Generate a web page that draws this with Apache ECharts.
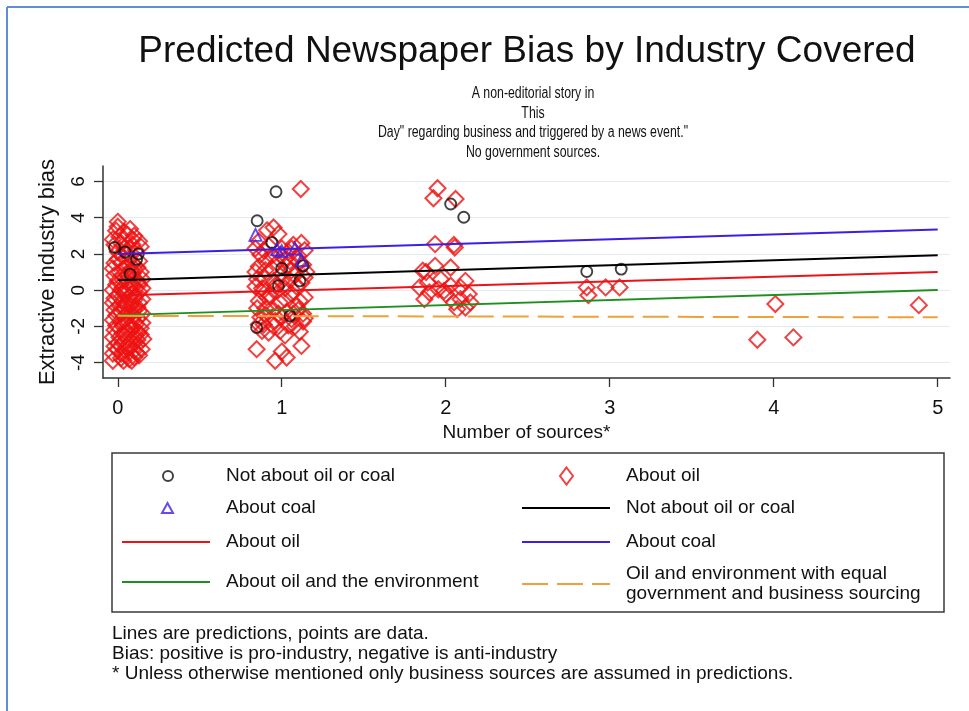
<!DOCTYPE html>
<html>
<head>
<meta charset="utf-8">
<script src="https://cdn.jsdelivr.net/npm/echarts@6/dist/echarts.min.js"></script>
<style>
  html, body { margin: 0; padding: 0; background: #fff; }
  #chart { width: 969px; height: 711px; }
</style>
</head>
<body>
<div id="chart"></div>
<script>
  // tick labels
  const xTicks = [0, 1, 2, 3, 4, 5];
  const yTicks = [-4, -2, 0, 2, 4, 6];

  // data points [sources, bias]
  const otherPts = [
    [0.045, 2.1], [0.125, 2.0], [0.075, 0.88], [0.115, 1.7], [-0.02, 2.35],
    [0.965, 5.43], [0.85, 3.83], [0.94, 2.63], [0.847, -2.06], [1.13, 1.34],
    [1.11, 0.51], [0.98, 0.24], [1.05, -1.42], [1.0, 1.2],
    [2.03, 4.75], [2.11, 4.02],
    [2.86, 1.03], [3.07, 1.16]
  ];
  const coalPts = [
    [0.84, 3.05], [0.97, 2.25], [1.0, 2.15], [1.08, 2.3], [1.12, 1.65]
  ];
  const oilPts = [
    // zero sources
    [0.0, 3.77], [0.075, 3.37], [-0.01, 3.28], [0.01, 2.95], [0.06, 3.05], [0.02, 2.6],
    [0.04, 2.3], [0.09, 2.5], [0.0, 2.1], [0.11, 2.2], [0.03, 1.85], [0.07, 1.7],
    [0.13, 1.6], [-0.02, 1.5], [0.05, 1.3], [0.1, 1.2], [0.01, 1.0], [0.14, 1.0],
    [0.06, 0.8], [0.03, 0.55], [0.12, 0.5], [-0.01, 0.3], [0.08, 0.2], [0.15, 0.1],
    [0.02, 0.0], [0.05, -0.2], [0.11, -0.3], [-0.02, -0.45], [0.07, -0.6], [0.13, -0.7],
    [0.01, -0.85], [0.04, -1.0], [0.1, -1.1], [0.15, -1.3], [-0.01, -1.4], [0.06, -1.5],
    [0.12, -1.6], [0.02, -1.8], [0.08, -1.95], [0.14, -2.1], [-0.02, -2.2], [0.05, -2.35],
    [0.125, -2.34], [0.01, -2.6], [0.09, -2.7], [0.156, -2.7], [0.03, -2.9], [0.12, -3.0],
    [-0.02, -3.1], [0.07, -3.2], [0.146, -3.26], [0.115, -3.44], [0.02, -3.5], [0.05, -3.6],
    [0.1, -3.7], [-0.03, -3.9], [0.035, -3.9], [0.085, -3.9], [0.0, -3.3], [0.04, -0.1],
    [0.09, 0.9], [0.0, 1.7], [0.06, 2.0], [0.13, 0.3], [0.03, -2.0], [0.11, -2.5],
    [-0.03, 2.8], [0.1, 3.0], [0.13, 2.7], [-0.02, 2.5], [0.07, 2.3], [0.14, 2.4],
    [0.02, 1.5], [0.09, 1.5], [-0.03, 1.2], [0.08, 1.1], [0.12, 1.25], [0.04, 0.7],
    [0.1, 0.65], [-0.02, 0.8], [0.15, 0.6], [0.06, 0.4], [0.0, 0.5], [0.1, 0.2],
    [0.03, 0.15], [-0.03, 0.0], [0.13, -0.1], [0.08, -0.25], [0.0, -0.3], [0.15, -0.5],
    [0.03, -0.55], [0.1, -0.55], [-0.03, -0.7], [0.05, -0.8], [0.12, -0.95], [0.08, -0.85],
    [-0.02, -1.1], [0.02, -1.25], [0.07, -1.25], [0.13, -1.15], [0.04, -1.7], [0.1, -1.45],
    [-0.03, -1.65], [0.15, -1.8], [0.06, -1.85], [0.11, -1.9], [-0.01, -1.95], [0.08, -2.2],
    [0.14, -2.45], [0.03, -2.4], [-0.03, -2.6], [0.06, -2.75], [0.12, -2.75], [0.0, -2.95],
    [0.08, -3.1], [0.04, -3.3], [0.1, -3.35], [-0.03, -3.5], [0.13, -3.6], [0.07, -3.8],
    [0.02, -3.75], [0.0, 3.5], [0.04, 3.2], [0.09, 2.8],
    // one source
    [1.116, 5.58], [0.95, 3.46], [0.91, 3.3], [0.98, 3.1], [0.86, 2.7], [1.07, 2.5],
    [1.12, 2.6], [0.89, 2.2], [1.0, 2.3], [1.04, 2.1], [0.94, 1.9], [1.1, 1.9],
    [0.86, 1.3], [0.97, 1.5], [1.03, 1.3], [1.13, 1.4], [0.9, 1.1], [1.0, 0.9],
    [1.08, 0.8], [0.85, 0.6], [0.95, 0.5], [1.12, 0.4], [0.88, 0.1], [1.02, 0.1],
    [1.06, -0.2], [0.93, -0.3], [1.14, -0.4], [0.86, -0.6], [0.99, -0.7], [1.09, -0.9],
    [0.9, -1.0], [1.03, -1.2], [1.13, -1.3], [0.87, -1.5], [0.96, -1.7], [1.06, -1.6],
    [1.13, -1.73], [0.92, -2.34], [0.99, -2.25], [0.89, -1.9], [1.08, -2.0], [0.95, 0.0],
    [1.05, 1.6], [0.88, -0.1], [1.15, 1.0], [0.98, -1.3], [1.1, -1.1],
    [0.847, -3.26], [0.96, -3.9], [1.0, -3.39], [1.03, -3.72], [1.12, -3.08],
    [0.84, 2.3], [0.92, 2.45], [1.06, 2.3], [0.87, 1.95], [0.99, 1.95], [1.14, 2.2],
    [0.9, 1.6], [1.02, 1.7], [1.1, 1.55], [0.84, 1.0], [0.94, 1.2], [1.06, 1.1],
    [0.89, 0.7], [1.0, 0.5], [1.05, 0.55], [1.14, 0.7], [0.84, 0.2], [0.96, 0.25],
    [1.09, 0.2], [0.91, -0.4], [1.02, -0.5], [1.11, -0.6], [0.85, -1.0], [0.95, -1.1],
    [1.07, -1.3], [0.9, -1.35], [1.0, -1.5], [1.14, -1.55], [0.86, -1.9], [0.95, -2.0],
    [1.04, -1.95], [1.11, -2.3], [0.88, -2.25], [1.02, -2.5],
    // two sources
    [1.95, 5.62], [1.925, 5.07], [2.06, 5.03], [1.935, 2.54], [2.05, 2.49], [2.055, 2.35],
    [1.86, 1.07], [1.935, 1.34], [2.03, 1.25], [1.84, 0.15], [1.89, 0.42], [1.87, -0.5],
    [1.955, 0.05], [1.99, -0.04], [2.03, 0.24], [2.09, 0.15], [2.12, 0.51], [2.14, -0.22],
    [2.05, -0.68], [2.09, -0.5], [2.07, -1.05], [1.9, -0.13], [2.0, -0.22], [2.12, -0.96],
    [2.15, -0.68], [1.97, 0.6], [1.88, 1.0],
    // three to five sources
    [2.86, 0.15], [2.87, -0.28], [2.975, 0.15], [3.06, 0.15],
    [4.01, -0.77], [3.9, -2.74], [4.12, -2.61], [4.885, -0.83]
  ];

  // predicted lines, value at 0 and 5 sources
  const lineX = [0, 5];
  const otherLine = [0.55, 1.93];
  const oilLine = [-0.3, 1.0];
  const coalLine = [2.0, 3.35];
  const envLine = [-1.38, 0.0];
  const equalLine = [-1.42, -1.5];

  const legendNames = {
    ptsOther: 'Not about oil or coal',
    ptsOil: 'About oil',
    ptsCoal: 'About coal',
    lnOther: 'Not about oil or coal',
    lnOil: 'About oil',
    lnCoal: 'About coal',
    lnEnv: 'About oil and the environment',
    lnEqual: 'Oil and environment with equal\ngovernment and business sourcing'
  };

  const subtitleLines = [
    'A non-editorial story in',
    'This',
    'Day" regarding business and triggered by a news event."',
    'No government sources.'
  ];

  const chart = echarts.init(document.getElementById('chart'));
  const font = 'Liberation Sans, Arial, sans-serif';

  function pair(vals) {
    return lineX.map((x, i) => [x, vals[i]]);
  }
  // one legend block per entry; textX is where the label starts
  function legendAt(name, left, cy, h, w, ih, textX, isLine) {
    const leg = {
      data: [name],
      left: left,
      top: cy - h / 2,
      padding: 0,
      itemWidth: w,
      itemHeight: ih,
      selectedMode: false,
      formatter: n => legendNames[n],
      textStyle: {
        fontFamily: font, fontSize: 19, lineHeight: 20, color: '#111',
        padding: [0, 0, 0, textX - (left + w + 5)]
      }
    };
    if (isLine) leg.itemStyle = { opacity: 0 };
    return leg;
  }

  const option = {
    animation: false,
    backgroundColor: '#fff',
    title: [
      {
        text: 'Predicted Newspaper Bias by Industry Covered',
        left: 527, top: 32, padding: 0, textAlign: 'center',
        textStyle: { fontFamily: font, fontSize: 37, fontWeight: 'normal', color: '#111', lineHeight: 40 }
      },
      {
        text: 'Lines are predictions, points are data.\nBias: positive is pro-industry, negative is anti-industry\n* Unless otherwise mentioned only business sources are assumed in predictions.',
        left: 112, top: 624, padding: 0,
        textStyle: { fontFamily: font, fontSize: 19, fontWeight: 'normal', color: '#111', lineHeight: 20 }
      }
    ],
    legend: [
      legendAt('ptsOther', 162, 476, 20, 10, 10, 225, false),
      legendAt('ptsCoal', 161, 508, 20, 11, 10, 225, false),
      legendAt('lnOil', 121, 542, 20, 88, 12, 225, true),
      legendAt('lnEnv', 121, 582, 20, 88, 12, 225, true),
      legendAt('ptsOil', 559, 476, 20, 13, 17, 625, false),
      legendAt('lnOther', 521, 508, 20, 88, 12, 625, true),
      legendAt('lnCoal', 521, 542, 20, 88, 12, 625, true),
      legendAt('lnEqual', 521, 584, 40, 88, 12, 625, true)
    ],
    graphic: [
      { type: 'line', shape: { x1: 7, y1: 7, x2: 969, y2: 7 }, style: { stroke: '#5f8fd6', lineWidth: 2 } },
      { type: 'line', shape: { x1: 7, y1: 7, x2: 7, y2: 711 }, style: { stroke: '#5f8fd6', lineWidth: 2 } },
      { type: 'rect', shape: { x: 112, y: 453, width: 832, height: 159 }, style: { fill: 'none', stroke: '#3a3a3a', lineWidth: 1.5 } }
    ].concat(subtitleLines.map((t, i) => ({
      type: 'text',
      x: 533, y: 94 + i * 19.5,
      scaleX: 0.77,
      style: {
        text: t, fill: '#111', align: 'center', verticalAlign: 'middle',
        font: '16px Liberation Sans, Arial, sans-serif'
      }
    }))),
    grid: { left: 103, right: 19, top: 166, bottom: 333 },
    xAxis: {
      type: 'value',
      min: -0.09, max: 5.075,
      name: 'Number of sources*',
      nameLocation: 'middle',
      nameGap: 45,
      nameTextStyle: { fontFamily: font, fontSize: 19, color: '#111' },
      axisLine: { onZero: false, lineStyle: { color: '#333', width: 1.5 } },
      axisTick: { customValues: xTicks, length: 9, lineStyle: { color: '#333', width: 1.3 } },
      axisLabel: { customValues: xTicks, margin: 20, fontFamily: font, fontSize: 20, color: '#111' },
      splitLine: { show: false }
    },
    yAxis: {
      type: 'value',
      min: -4.85, max: 6.85,
      name: 'Extractive industry bias',
      nameLocation: 'middle',
      nameRotate: 90,
      nameGap: 44,
      nameTextStyle: { fontFamily: font, fontSize: 22, color: '#111' },
      axisLine: { show: true, onZero: false, lineStyle: { color: '#333', width: 1.5 } },
      axisTick: { show: true, customValues: yTicks, length: 9, lineStyle: { color: '#333', width: 1.3 } },
      axisLabel: { customValues: yTicks, rotate: 90, margin: 15, fontFamily: font, fontSize: 19, color: '#111' },
      splitLine: { show: true, lineStyle: { color: '#e4ecf1', width: 1.2 } }
    },
    series: [
      {
        name: 'ptsOil', type: 'scatter', data: oilPts, symbol: 'diamond', symbolSize: 16, clip: false,
        itemStyle: { color: 'rgba(0,0,0,0)', borderColor: '#ee1111', borderWidth: 2 }
      },
      {
        name: 'ptsOther', type: 'scatter', data: otherPts, symbol: 'circle', symbolSize: 11, clip: false,
        itemStyle: { color: 'rgba(0,0,0,0)', borderColor: '#111', borderWidth: 1.9 }
      },
      {
        name: 'ptsCoal', type: 'scatter', data: coalPts, symbol: 'triangle', symbolSize: 12, clip: false,
        itemStyle: { color: 'rgba(0,0,0,0)', borderColor: '#3b1fe6', borderWidth: 1.9 }
      },
      { name: 'lnCoal', type: 'line', data: pair(coalLine), symbol: 'none', lineStyle: { color: '#3b1fe6', width: 2 }, itemStyle: { color: '#3b1fe6' } },
      { name: 'lnOther', type: 'line', data: pair(otherLine), symbol: 'none', lineStyle: { color: '#000', width: 2 }, itemStyle: { color: '#000' } },
      { name: 'lnOil', type: 'line', data: pair(oilLine), symbol: 'none', lineStyle: { color: '#e8141a', width: 2 }, itemStyle: { color: '#e8141a' } },
      { name: 'lnEnv', type: 'line', data: pair(envLine), symbol: 'none', lineStyle: { color: '#1f8f1f', width: 2 }, itemStyle: { color: '#1f8f1f' } },
      { name: 'lnEqual', type: 'line', data: pair(equalLine), symbol: 'none', lineStyle: { color: '#f0a03a', width: 2, type: [26, 9] }, itemStyle: { color: '#f0a03a' } }
    ]
  };

  chart.setOption(option);
</script>
</body>
</html>
